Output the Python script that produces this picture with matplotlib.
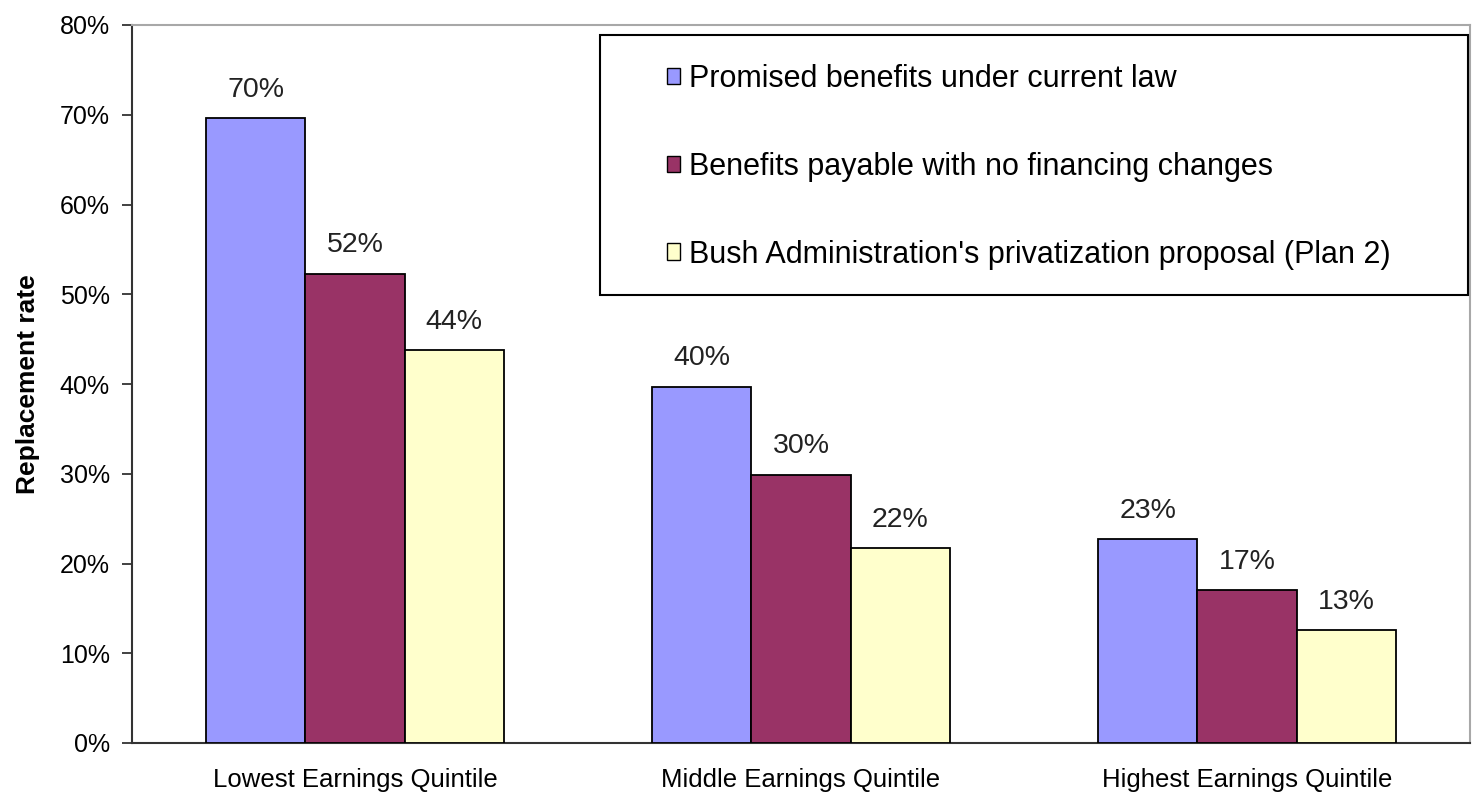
import matplotlib
matplotlib.use("Agg")
from matplotlib import pyplot as plt
from matplotlib.patches import Rectangle, Patch
import numpy as np

plt.rcParams['font.family'] = ['Liberation Sans', 'DejaVu Sans']

# 数据
quintiles = ["Lowest Earnings Quintile", "Middle Earnings Quintile", "Highest Earnings Quintile"]
series_names = ["Promised benefits under current law",
                "Benefits payable with no financing changes",
                "Bush Administration's privatization proposal (Plan 2)"]
promised = [69.6, 52.3, 43.8]
payable = [39.7, 29.9, 21.7]
bush_plan = [22.7, 17.0, 12.6]
# 按组重排: 每个序列在三个分位组上的值
promised_s = [promised[0], payable[0], bush_plan[0]]
payable_s = [promised[1], payable[1], bush_plan[1]]
bush_s = [promised[2], payable[2], bush_plan[2]]
colors = ["#9999FF", "#993366", "#FFFFCC"]

fig = plt.figure(figsize=(14.75, 7.95), dpi=100)
ax = fig.add_axes([132 / 1475, 52 / 795, 1338 / 1475, 718 / 795])

x = np.arange(len(quintiles))
width = 0.222
for i, (vals, c, name) in enumerate(zip([promised_s, payable_s, bush_s], colors, series_names)):
    pos = x + (i - 1) * width
    ax.bar(pos, vals, width, color=c, edgecolor="black", linewidth=1.3, label=name, zorder=3)
    for px, v in zip(pos, vals):
        ax.annotate("{:.0f}%".format(v), xy=(px, v), xytext=(0, 11),
                    textcoords="offset points", ha="center", va="bottom",
                    fontsize=20.5, color="#222222")

ax.set_xlim(-0.5, 2.5)
ax.set_ylim(0, 80)
ax.set_yticks(range(0, 81, 10))
ax.set_yticklabels(["{}%".format(v) for v in range(0, 81, 10)])
ax.set_xticks(x)
ax.set_xticklabels(quintiles)

ax.tick_params(axis="y", direction="out", length=7, width=1.3, color="#333333",
               labelsize=18, pad=9)
ax.tick_params(axis="x", length=0, labelsize=18.5, pad=18)
ax.set_ylabel("Replacement rate", fontsize=19, fontweight="bold", labelpad=14)

for s in ["left", "bottom"]:
    ax.spines[s].set_color("#333333")
    ax.spines[s].set_linewidth(1.5)
for s in ["top", "right"]:
    ax.spines[s].set_color("#a8a8a8")
    ax.spines[s].set_linewidth(1.5)

# 图例边框
box = Rectangle((600 / 1475, 500 / 795), 868 / 1475, 260 / 795,
                transform=fig.transFigure, facecolor="white", edgecolor="black",
                linewidth=1.5, zorder=4)
ax.add_patch(box)
box.set_clip_on(False)

handles = [Patch(facecolor=c, edgecolor="black", linewidth=1.0) for c in colors]
leg = ax.legend(handles, series_names, loc="upper left",
                bbox_to_anchor=(667 / 1475, 1 - 64 / 795), bbox_transform=fig.transFigure,
                frameon=False, fontsize=22, borderpad=0, borderaxespad=0,
                labelspacing=1.89, handlelength=0.43, handleheight=0.46,
                handletextpad=0.3)
leg.set_zorder(5)

plt.savefig("out.png", dpi=100)
